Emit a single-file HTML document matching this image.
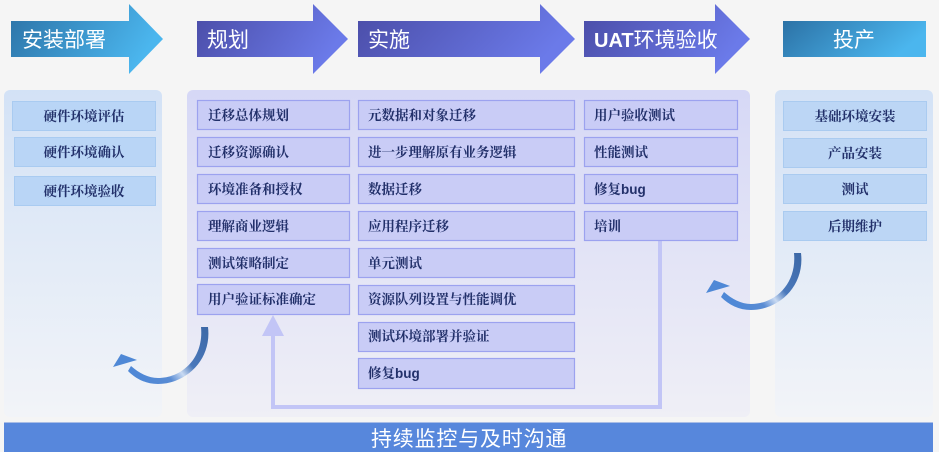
<!DOCTYPE html>
<html><head><meta charset="utf-8"><style>
html,body{margin:0;padding:0;background:#f5f5f5;}
svg{display:block;}
.bt{font-family:"Liberation Sans","Noto Serif CJK SC",serif;font-size:13.5px;fill:#22306a;font-weight:bold;}
.ht{font-family:"Liberation Sans","Noto Sans CJK SC",sans-serif;font-size:21px;fill:#ffffff;}
</style></head><body>
<svg width="939" height="452" viewBox="0 0 939 452" xmlns="http://www.w3.org/2000/svg">
<defs>
<linearGradient id="gTeal" x1="0" y1="0" x2="1" y2="0.3">
<stop offset="0" stop-color="#2c72a6"/><stop offset="1" stop-color="#4bb6ee"/></linearGradient>
<linearGradient id="gPur" x1="0" y1="0" x2="1" y2="0.3">
<stop offset="0" stop-color="#4a4ca6"/><stop offset="1" stop-color="#6b7ae9"/></linearGradient>
<linearGradient id="gBluePanel" x1="0" y1="0" x2="0" y2="1">
<stop offset="0" stop-color="#d3e2f6"/><stop offset="1" stop-color="#f2f4f8"/></linearGradient>
<linearGradient id="gPurPanel" x1="0" y1="0" x2="0" y2="1">
<stop offset="0" stop-color="#d6d8f6"/><stop offset="1" stop-color="#efeff6"/></linearGradient>
<linearGradient id="gCurve" x1="1" y1="0" x2="0" y2="0.6">
<stop offset="0" stop-color="#3c68a6"/><stop offset="0.45" stop-color="#4a78bb"/><stop offset="0.6" stop-color="#c9daf2"/><stop offset="0.75" stop-color="#5a8cd3"/><stop offset="1" stop-color="#4f88d6"/></linearGradient>
</defs>

<!-- header arrows -->
<polygon points="11,21 129,21 129,4 163,39 129,74 129,57 11,57" fill="url(#gTeal)"/>
<polygon points="197,21 313,21 313,4 348,39 313,74 313,57 197,57" fill="url(#gPur)"/>
<polygon points="358,21 540,21 540,4 575,39 540,74 540,57 358,57" fill="url(#gPur)"/>
<polygon points="584,21 715,21 715,4 750,39 715,74 715,57 584,57" fill="url(#gPur)"/>
<rect x="783" y="21" width="143" height="36" fill="url(#gTeal)"/>

<text class="ht" x="22" y="47">安装部署</text>
<text class="ht" x="207" y="47">规划</text>
<text class="ht" x="368" y="47">实施</text>
<text class="ht" x="594" y="47"><tspan font-weight="bold" font-size="20px">UAT</tspan>环境验收</text>
<text class="ht" x="854" y="47" text-anchor="middle">投产</text>

<!-- panels -->
<rect x="4" y="90" width="158" height="327" rx="6" fill="url(#gBluePanel)"/>
<rect x="187" y="90" width="563" height="327" rx="6" fill="url(#gPurPanel)"/>
<rect x="775" y="90" width="158" height="327" rx="6" fill="url(#gBluePanel)"/>

<!-- left panel boxes -->
<g fill="#b9d5f6" stroke="#a9cbf1" stroke-width="1">
<rect x="12.5" y="101.5" width="143" height="29"/>
<rect x="14.5" y="137.5" width="141" height="29"/>
<rect x="14.5" y="176.5" width="141" height="29"/>
</g>
<g class="bt" text-anchor="middle">
<text x="84" y="121">硬件环境评估</text>
<text x="84" y="157">硬件环境确认</text>
<text x="84" y="196">硬件环境验收</text>
</g>

<!-- right panel boxes -->
<g fill="#bcd6f5" stroke="#aacbf0" stroke-width="1">
<rect x="783.5" y="101.5" width="143" height="29"/>
<rect x="783.5" y="138.5" width="143" height="29"/>
<rect x="783.5" y="174.5" width="143" height="29"/>
<rect x="783.5" y="211.5" width="143" height="29"/>
</g>
<g class="bt" text-anchor="middle">
<text x="855" y="121">基础环境安装</text>
<text x="855" y="158">产品安装</text>
<text x="855" y="194">测试</text>
<text x="855" y="231">后期维护</text>
</g>

<!-- feedback connector -->
<polyline points="660,240 660,407 273,407 273,334" fill="none" stroke="#c2c5f6" stroke-width="4"/>
<polygon points="273,315 262,336 284,336" fill="#c2c5f6"/>

<!-- middle boxes -->
<g fill="#c9ccf6" stroke="#9ca2ef" stroke-width="1.2">
<rect x="197.5" y="100.5" width="152" height="29"/>
<rect x="197.5" y="137.5" width="152" height="29"/>
<rect x="197.5" y="174.5" width="152" height="29"/>
<rect x="197.5" y="211.5" width="152" height="29"/>
<rect x="197.5" y="248.5" width="152" height="29"/>
<rect x="197.5" y="284.5" width="152" height="30"/>

<rect x="358.5" y="100.5" width="216" height="29"/>
<rect x="358.5" y="137.5" width="216" height="29"/>
<rect x="358.5" y="174.5" width="216" height="29"/>
<rect x="358.5" y="211.5" width="216" height="29"/>
<rect x="358.5" y="248.5" width="216" height="29"/>
<rect x="358.5" y="285.5" width="216" height="29"/>
<rect x="358.5" y="322.5" width="216" height="29"/>
<rect x="358.5" y="358.5" width="216" height="30"/>

<rect x="584.5" y="100.5" width="153" height="29"/>
<rect x="584.5" y="137.5" width="153" height="29"/>
<rect x="584.5" y="174.5" width="153" height="29"/>
<rect x="584.5" y="211.5" width="153" height="29"/>
</g>
<g class="bt">
<text x="208" y="120">迁移总体规划</text>
<text x="208" y="157">迁移资源确认</text>
<text x="208" y="194">环境准备和授权</text>
<text x="208" y="231">理解商业逻辑</text>
<text x="208" y="268">测试策略制定</text>
<text x="208" y="304">用户验证标准确定</text>

<text x="368" y="120">元数据和对象迁移</text>
<text x="368" y="157">进一步理解原有业务逻辑</text>
<text x="368" y="194">数据迁移</text>
<text x="368" y="231">应用程序迁移</text>
<text x="368" y="268">单元测试</text>
<text x="368" y="304">资源队列设置与性能调优</text>
<text x="368" y="341">测试环境部署并验证</text>
<text x="368" y="378">修复<tspan font-family="Liberation Sans" font-weight="bold">bug</tspan></text>

<text x="594" y="120">用户验收测试</text>
<text x="594" y="157">性能测试</text>
<text x="594" y="194">修复<tspan font-family="Liberation Sans" font-weight="bold">bug</tspan></text>
<text x="594" y="231">培训</text>
</g>

<!-- curved arrows -->
<g id="ca">
<path d="M201,327 L208,327 C212,360 186,384 158,384 C146,384 136,379 128,371 L131,366 C139,373 148,378 158,378 C182,378 204,358 201,327 Z" fill="url(#gCurve)"/>
<polygon points="113,367 121,354 137,360" fill="#4f88d6"/>
</g>
<use href="#ca" transform="translate(593,-74)"/>

<!-- bottom bar -->
<rect x="4" y="423" width="929" height="29" fill="#5787dc"/>
<rect x="4" y="422" width="929" height="1" fill="#a9bde6"/>
<text x="371" y="446" font-family="'Liberation Sans','Noto Sans CJK SC',sans-serif" font-size="21" fill="#ffffff" letter-spacing="0.8">持续监控与及时沟通</text>
</svg>
</body></html>
